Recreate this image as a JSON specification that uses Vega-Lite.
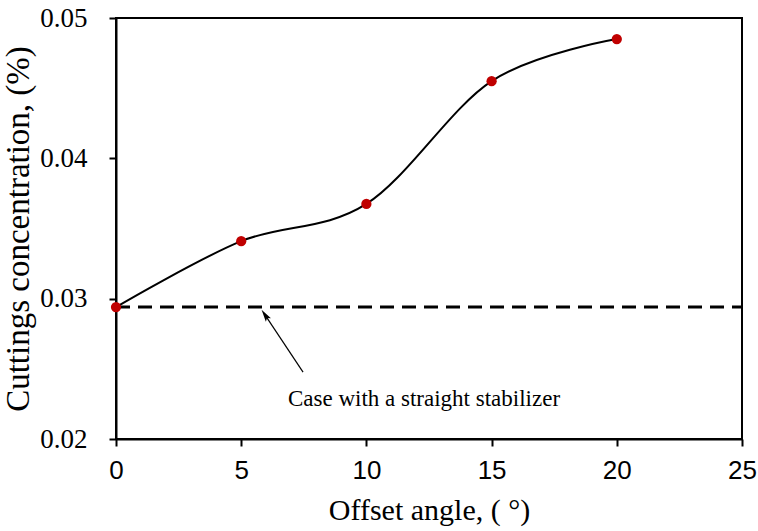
{
  "$schema": "https://vega.github.io/schema/vega-lite/v6.json",
  "width": 626,
  "height": 421,
  "autosize": {"type": "none"},
  "padding": {"left": 116, "top": 18, "right": 16, "bottom": 92},
  "background": "white",
  "config": {
    "view": {"stroke": "black", "strokeWidth": 2},
    "axis": {"grid": false, "domainColor": "black", "domainWidth": 2, "tickColor": "black", "tickWidth": 2, "tickSize": 7, "labelColor": "black", "titleColor": "black", "titleFontWeight": "normal", "labelFlush": false}
  },
  "datasets": {
    "pts": [
      {"angle": 0, "conc": 0.0294},
      {"angle": 5, "conc": 0.0341},
      {"angle": 10, "conc": 0.03675},
      {"angle": 15, "conc": 0.0455},
      {"angle": 20, "conc": 0.0485}
    ],
    "base": [{"x": 0, "x2": 25, "y": 0.0294}],
    "arrow": [{"x": 7.47, "y": 0.02477, "x2": 5.95, "y2": 0.02884}],
    "label": [{"x": 12.3, "y": 0.02235, "text": "Case with a straight stabilizer"}]
  },
  "layer": [
    {
      "data": {"name": "base"},
      "mark": {"type": "rule", "strokeDash": [14, 8], "strokeWidth": 3, "color": "black"},
      "encoding": {
        "x": {"field": "x", "type": "quantitative", "scale": {"domain": [0, 25], "nice": false},
          "axis": {"values": [0, 5, 10, 15, 20, 25], "title": "Offset angle, ( °)", "labelFont": "Liberation Sans", "labelFontSize": 26, "labelPadding": 11, "titleFont": "Liberation Serif", "titleFontSize": 30, "titlePadding": 12}},
        "x2": {"field": "x2"},
        "y": {"field": "y", "type": "quantitative", "scale": {"domain": [0.02, 0.05], "nice": false},
          "axis": {"values": [0.02, 0.03, 0.04, 0.05], "format": ".2f", "title": "Cuttings concentration, (%)", "labelFont": "Liberation Serif", "labelFontSize": 27, "labelPadding": 22, "titleFont": "Liberation Serif", "titleFontSize": 33, "titlePadding": 4}}
      }
    },
    {
      "data": {"name": "pts"},
      "mark": {"type": "line", "interpolate": "cardinal", "color": "black", "strokeWidth": 2},
      "encoding": {
        "x": {"field": "angle", "type": "quantitative"},
        "y": {"field": "conc", "type": "quantitative"}
      }
    },
    {
      "data": {"name": "pts"},
      "mark": {"type": "point", "filled": true, "color": "#C00000", "size": 105, "opacity": 1, "clip": false},
      "encoding": {
        "x": {"field": "angle", "type": "quantitative"},
        "y": {"field": "conc", "type": "quantitative"}
      }
    },
    {
      "data": {"name": "arrow"},
      "mark": {"type": "rule", "color": "black", "strokeWidth": 1.2},
      "encoding": {
        "x": {"field": "x", "type": "quantitative"},
        "y": {"field": "y", "type": "quantitative"},
        "x2": {"field": "x2"},
        "y2": {"field": "y2"}
      }
    },
    {
      "data": {"name": "arrow"},
      "mark": {"type": "point", "shape": "M0,-1L-0.5,1L0,0.6L0.5,1Z", "filled": true, "color": "black", "size": 150, "opacity": 1, "angle": 326},
      "encoding": {
        "x": {"field": "x2", "type": "quantitative"},
        "y": {"field": "y2", "type": "quantitative"}
      }
    },
    {
      "data": {"name": "label"},
      "mark": {"type": "text", "font": "Liberation Serif", "fontSize": 23, "color": "black", "baseline": "alphabetic"},
      "encoding": {
        "x": {"field": "x", "type": "quantitative"},
        "y": {"field": "y", "type": "quantitative"},
        "text": {"field": "text"}
      }
    }
  ]
}
